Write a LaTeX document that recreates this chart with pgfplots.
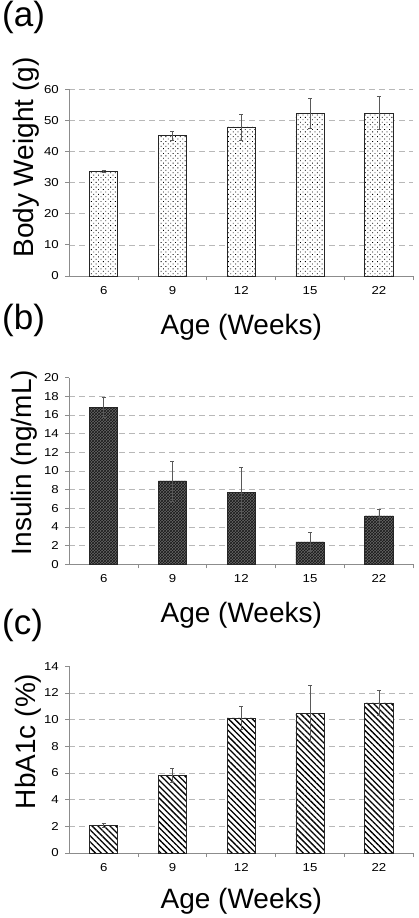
\documentclass[border=0pt]{standalone}
\usepackage{fontspec}
\setmainfont{Liberation Sans}
\newfontfamily\tickfont[FakeStretch=1.15]{Liberation Sans}
\usepackage{pgfplots}
\pgfplotsset{compat=1.18}
\usetikzlibrary{patterns,patterns.meta}

\pgfplotsset{
  panel/.style={
    scale only axis,
    width=344pt, height=186.7pt,
    anchor=south west,
    xmin=-0.5, xmax=4.5,
    ymin=0,
    axis lines*=left,
    axis line style={draw=black!45, line width=0.8pt},
    xtick={0.5,1.5,2.5,3.5,4.5},
    xticklabels={},
    x tick style={draw=black!45, line width=0.8pt},
    y tick style={draw=black!45, line width=0.8pt},
    major tick length=4pt,
    tick align=outside,
    extra x ticks={0,1,2,3,4},
    extra x tick labels={6,9,12,15,22},
    extra x tick style={major tick length=0pt, tick style={draw=none}},
    ymajorgrids,
    grid style={draw=black!28, dash pattern=on 6pt off 4pt, line width=0.7pt},
    /pgf/number format/assume math mode=true,
    ticklabel style={font=\tickfont\fontsize{11.5}{13}\selectfont},
    yticklabel style={xshift=-3pt},
    xticklabel style={yshift=-7pt},
    label style={font=\fontsize{28}{32}\selectfont},
    ylabel style={anchor=center, rotate=0},
    xlabel style={anchor=base},
    xlabel={Age (Weeks)},
    ybar, bar width=28.3pt,
    clip=false,
  },
  ebar/.style={
    draw=black!85, line width=0.7pt,
    error bars/y dir=both, error bars/y explicit,
    error bars/error bar style={draw=black!65, line width=0.7pt},
    error bars/error mark options={draw=black!65, rotate=90, mark size=2pt, line width=0.7pt},
  },
}

\begin{document}
\begin{tikzpicture}
\useasboundingbox (0,0) rectangle (418pt,-918pt);

% (a)
\node[font=\fontsize{35}{40}\selectfont, anchor=base west, inner sep=0pt] at (2pt,-26pt) {(a)};
\begin{axis}[panel, at={(69.3pt,-276pt)},
  ymax=60, ytick={0,10,20,30,40,50,60},
  ylabel={Body Weight (g)},
  ylabel style={at={(axis description cs:-0.125,0.635)}},
  xlabel style={at={(axis description cs:0.5,-0.312)}},
]
\addplot[ebar, fill=white, postaction={pattern={Dots[angle=45,distance=3.4pt,radius=0.6pt]}}]
  coordinates {(0,33.7) +- (0,0.4) (1,45.1) +- (0,1.5) (2,47.9) +- (0,4.2) (3,52.3) +- (0,4.8) (4,52.3) +- (0,5.3)};
\end{axis}

% (b)
\node[font=\fontsize{35}{40}\selectfont, anchor=base west, inner sep=0pt] at (2pt,-329pt) {(b)};
\begin{axis}[panel, at={(69.3pt,-564.3pt)},
  ymax=20, ytick={0,2,4,6,8,10,12,14,16,18},
  extra y ticks={20}, extra y tick style={grid=none},
  ylabel={Insulin (ng/mL)},
  ylabel style={at={(axis description cs:-0.13,0.545)}},
  xlabel style={at={(axis description cs:0.5,-0.314)}},
]
\addplot[ebar, fill=black!60, postaction={pattern=crosshatch, pattern color=black!90}]
  coordinates {(0,16.82) +- (0,1.05) (1,8.93) +- (0,2.15) (2,7.72) +- (0,2.65) (3,2.39) +- (0,1.0) (4,5.18) +- (0,0.75)};
\end{axis}

% (c)
\node[font=\fontsize{35}{40}\selectfont, anchor=base west, inner sep=0pt] at (2pt,-634pt) {(c)};
\begin{axis}[panel, at={(69.3pt,-853pt)},
  ymax=14, ytick={0,2,4,6,8,10,12},
  extra y ticks={14}, extra y tick style={grid=none},
  ylabel={HbA1c (\%)},
  ylabel style={at={(axis description cs:-0.12,0.598)}},
  xlabel style={at={(axis description cs:0.5,-0.295)}},
]
\addplot[ebar, fill=white, postaction={pattern={Lines[angle=-45,distance=4.2pt,line width=1.3pt]}}]
  coordinates {(0,2.08) +- (0,0.12) (1,5.83) +- (0,0.52) (2,10.13) +- (0,0.85) (3,10.48) +- (0,2.1) (4,11.25) +- (0,0.95)};
\end{axis}
\end{tikzpicture}
\end{document}
